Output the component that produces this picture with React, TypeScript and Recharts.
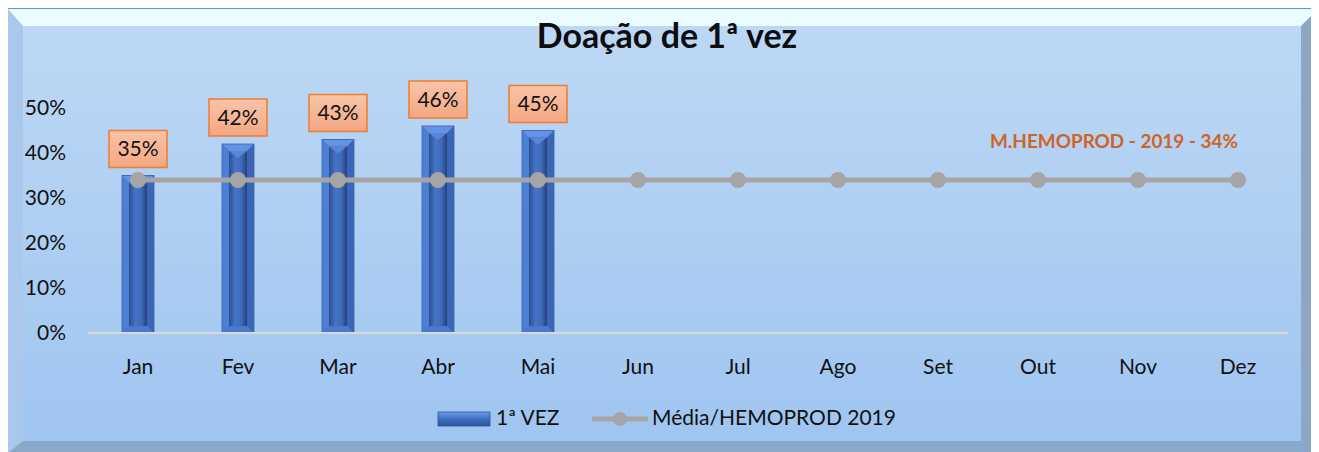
import React from 'react';
import {
  ComposedChart,
  Bar,
  Line,
  XAxis,
  YAxis,
  LabelList,
} from 'recharts';

const months = ['Jan', 'Fev', 'Mar', 'Abr', 'Mai', 'Jun', 'Jul', 'Ago', 'Set', 'Out', 'Nov', 'Dez'];
const firstTime = [0.35, 0.42, 0.43, 0.46, 0.45, null, null, null, null, null, null, null];
const average2019 = [0.34, 0.34, 0.34, 0.34, 0.34, 0.34, 0.34, 0.34, 0.34, 0.34, 0.34, 0.34];
const yTicks = [0, 0.1, 0.2, 0.3, 0.4, 0.5];

const chartData = months.map((month, i) => ({
  month,
  firstTime: firstTime[i],
  average: average2019[i],
}));

const FONT = 'Lato, "Noto Sans", sans-serif';
const pct = (v: number) => `${Math.round(v * 100)}%`;

// bevelled bar like the excel "3D" preset
function BevelBar(props: any) {
  const { x, y, width: w, height: h } = props;
  if (h == null || h <= 0) return null;
  const b = 7;
  return (
    <g>
      <rect x={x} y={y} width={w} height={h} fill="#4472c4" />
      <polygon points={`${x},${y} ${x + w},${y} ${x + w - b},${y + b} ${x + b},${y + b}`} fill="#6393e2" />
      <polygon points={`${x},${y} ${x + b},${y + b} ${x + b},${y + h - b} ${x},${y + h}`} fill="#4d7fd4" />
      <polygon points={`${x + w},${y} ${x + w - b},${y + b} ${x + w - b},${y + h - b} ${x + w},${y + h}`} fill="#3b66b6" />
      <polygon points={`${x},${y + h} ${x + b},${y + h - b} ${x + w - b},${y + h - b} ${x + w},${y + h}`} fill="#4a79cc" />
      <rect x={x + b} y={y + b} width={w - 2 * b} height={h - 2 * b} fill="url(#barInner)" />
      <polygon points={`${x + b},${y + b} ${x + w - b},${y + b} ${x + w / 2},${y + b + 7}`} fill="#5687d8" />
      <rect x={x} y={y} width={w} height={h} fill="none" stroke="#3a62aa" strokeWidth={0.8} />
    </g>
  );
}

function BoxLabel(props: any) {
  const { x, y, width, value } = props;
  if (value == null) return null;
  const cx = x + width / 2;
  const bw = 58;
  const bh = 37;
  const top = y - 8 - bh;
  return (
    <g>
      <rect x={cx - bw / 2} y={top} width={bw} height={bh} fill="url(#labelFill)" stroke="#ed7d31" strokeWidth={1.5} />
      <text x={cx} y={top + bh / 2 + 7} textAnchor="middle" fontFamily={FONT} fontSize={21} fill="#111">
        {pct(value)}
      </text>
    </g>
  );
}

function AvgNote(props: any) {
  const { x, y, index } = props;
  if (index !== months.length - 1) return null;
  return (
    <text
      x={x}
      y={y - 32}
      textAnchor="end"
      fontFamily={FONT}
      fontWeight={700}
      fontSize={19}
      fill="#cd6426"
      textLength={248}
      lengthAdjust="spacingAndGlyphs"
    >
      M.HEMOPROD - 2019 - 34%
    </text>
  );
}

export default function App() {
  return (
    <div style={{ position: 'relative', width: 1311, height: 445, marginLeft: -1, fontFamily: FONT }}>
      <div
        style={{
          position: 'absolute', left: 0, top: 0, width: 1311, height: 445,
          boxSizing: 'border-box', borderTop: '1px solid #5b9bd5', borderLeft: '1px solid #5b9bd5',
        }}
      />
      <div
        style={{
          position: 'absolute', left: 1, top: 1, width: 1310, height: 444, boxSizing: 'border-box',
          borderStyle: 'solid', borderWidth: '17px 17px 12px 15px',
          borderColor: '#eafcff #8ea7c4 #8aa8c9 #a9c8ec',
          background: 'linear-gradient(#bdd8f5, #9fc5f0)',
        }}
      />
      <div style={{ position: 'absolute', left: 0, top: 0 }}>
        <ComposedChart width={1311} height={445} data={chartData} margin={{ top: 100, right: 30, bottom: 90, left: 21 }}>
          <defs>
            <linearGradient id="barInner" x1="0" y1="0" x2="1" y2="0">
              <stop offset="0" stopColor="#2b4d90" />
              <stop offset="0.35" stopColor="#4575c6" />
              <stop offset="0.7" stopColor="#3d69b8" />
              <stop offset="1" stopColor="#263f78" />
            </linearGradient>
            <linearGradient id="labelFill" x1="0" y1="0" x2="0" y2="1">
              <stop offset="0" stopColor="#f9c4a8" />
              <stop offset="1" stopColor="#f4a783" />
            </linearGradient>
          </defs>
          <XAxis
            dataKey="month"
            height={30}
            axisLine={{ stroke: '#d9d9d9', strokeWidth: 2 }}
            tickLine={false}
            tickSize={0}
            tickMargin={26}
            tick={{ fill: '#111', fontSize: 21, fontFamily: FONT }}
          />
          <YAxis
            width={60}
            domain={[0, 0.5]}
            ticks={yTicks}
            tickFormatter={pct}
            axisLine={false}
            tickLine={false}
            tickSize={0}
            tickMargin={22}
            tick={{ fill: '#111', fontSize: 21, fontFamily: FONT }}
          />
          <Bar dataKey="firstTime" barSize={32} shape={<BevelBar />} isAnimationActive={false}>
            <LabelList dataKey="firstTime" content={<BoxLabel />} />
          </Bar>
          <Line
            dataKey="average"
            stroke="#a5a5a5"
            strokeWidth={5}
            dot={{ r: 8, fill: '#a5a5a5', stroke: 'none' }}
            activeDot={false}
            isAnimationActive={false}
          >
            <LabelList dataKey="average" content={<AvgNote />} />
          </Line>
        </ComposedChart>
      </div>
      <svg width={1311} height={445} style={{ position: 'absolute', left: 0, top: 0, pointerEvents: 'none' }}>
        <defs>
          <linearGradient id="legendBar" x1="0" y1="0" x2="0" y2="1">
            <stop offset="0" stopColor="#6b9be6" />
            <stop offset="0.5" stopColor="#3f6ec2" />
            <stop offset="1" stopColor="#2e5298" />
          </linearGradient>
        </defs>
        <text x={660} y={40} textAnchor="middle" fontFamily={FONT} fontWeight={700} fontSize={34} fill="#0d0d0d">
          Doação de 1ª vez
        </text>
        <rect x={431} y={404} width={52} height={14} fill="url(#legendBar)" stroke="#2f5597" strokeWidth={0.8} />
        <text x={489} y={417} fontFamily={FONT} fontSize={21} fill="#111">1ª VEZ</text>
        <line x1={585} y1={411} x2={641} y2={411} stroke="#a5a5a5" strokeWidth={5} />
        <circle cx={613} cy={411} r={7} fill="#a5a5a5" />
        <text x={645} y={417} fontFamily={FONT} fontSize={21} fill="#111">Média/HEMOPROD 2019</text>
      </svg>
    </div>
  );
}
